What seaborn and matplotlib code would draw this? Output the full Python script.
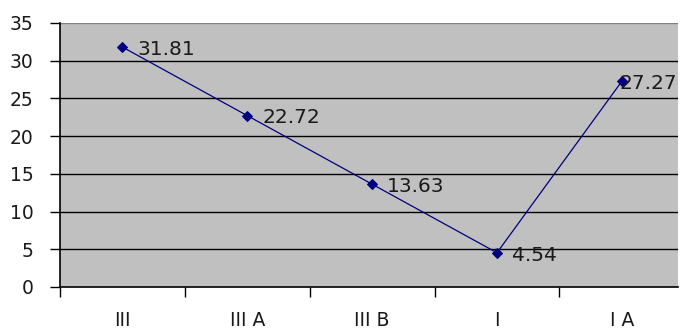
import numpy as np
import pandas as pd
import matplotlib
matplotlib.use("Agg")
import matplotlib.pyplot as plt
import seaborn as sns

# chart values
categories = ["III", "III A", "III B", "I", "I A"]
values = [31.81, 22.72, 13.63, 4.54, 27.27]
labels = ["31.81", "22.72", "13.63", "4.54", "27.27"]
y_ticks = [0, 5, 10, 15, 20, 25, 30, 35]

df = pd.DataFrame({"pos": np.arange(len(categories)), "value": values})

sns.set_style("white")
plt.rcParams["font.family"] = ["DejaVu Sans"]

fig = plt.figure(figsize=(6.88, 3.3), dpi=100)
ax = fig.add_axes([60 / 688, 1 - 287 / 330, 618 / 688, 264 / 330])
ax.set_facecolor("#c0c0c0")

sns.lineplot(data=df, x="pos", y="value", ax=ax, color="#000080", linewidth=0.9,
             marker="D", markersize=5, markeredgecolor="#000080", zorder=3)

for i, (x, y, t) in enumerate(zip(df["pos"], values, labels)):
    # Excel pushed the last label back over its marker to keep it inside
    dx = -0.02 if i == len(values) - 1 else 0.12
    ax.text(x + dx, y - 0.3, t, fontsize=14.5, color="#1a1a1a", va="center", ha="left",
            clip_on=True, zorder=4)

ax.set_ylim(0, 35)
ax.set_xlim(-0.5, 4.45)
ax.set_yticks(y_ticks)
ax.set_yticklabels([str(v) for v in y_ticks], fontsize=13.5, color="#1a1a1a")
for v in y_ticks[1:-1]:
    ax.axhline(v, color="black", linewidth=1.0, zorder=1)
ax.axhline(35, color="#808080", linewidth=1.0, zorder=1)

# category ticks at boundaries, labels centered
ax.set_xticks(np.arange(-0.5, 4.0, 1.0))
ax.set_xticklabels([])
ax.set_xticks(np.arange(len(categories)), minor=True)
ax.set_xticklabels(categories, minor=True, fontsize=13.5, color="#1a1a1a")
ax.tick_params(axis="x", which="major", direction="out", length=7, width=1, color="black", bottom=True)
ax.tick_params(axis="x", which="minor", length=0, pad=17)
ax.tick_params(axis="y", direction="out", length=7, width=1, color="black", left=True, pad=12)

for s in ["top", "right"]:
    ax.spines[s].set_visible(False)
for s in ["left", "bottom"]:
    ax.spines[s].set_color("black")
    ax.spines[s].set_linewidth(1.2)
ax.set_xlabel("")
ax.set_ylabel("")

fig.savefig("out.png", dpi=100)
